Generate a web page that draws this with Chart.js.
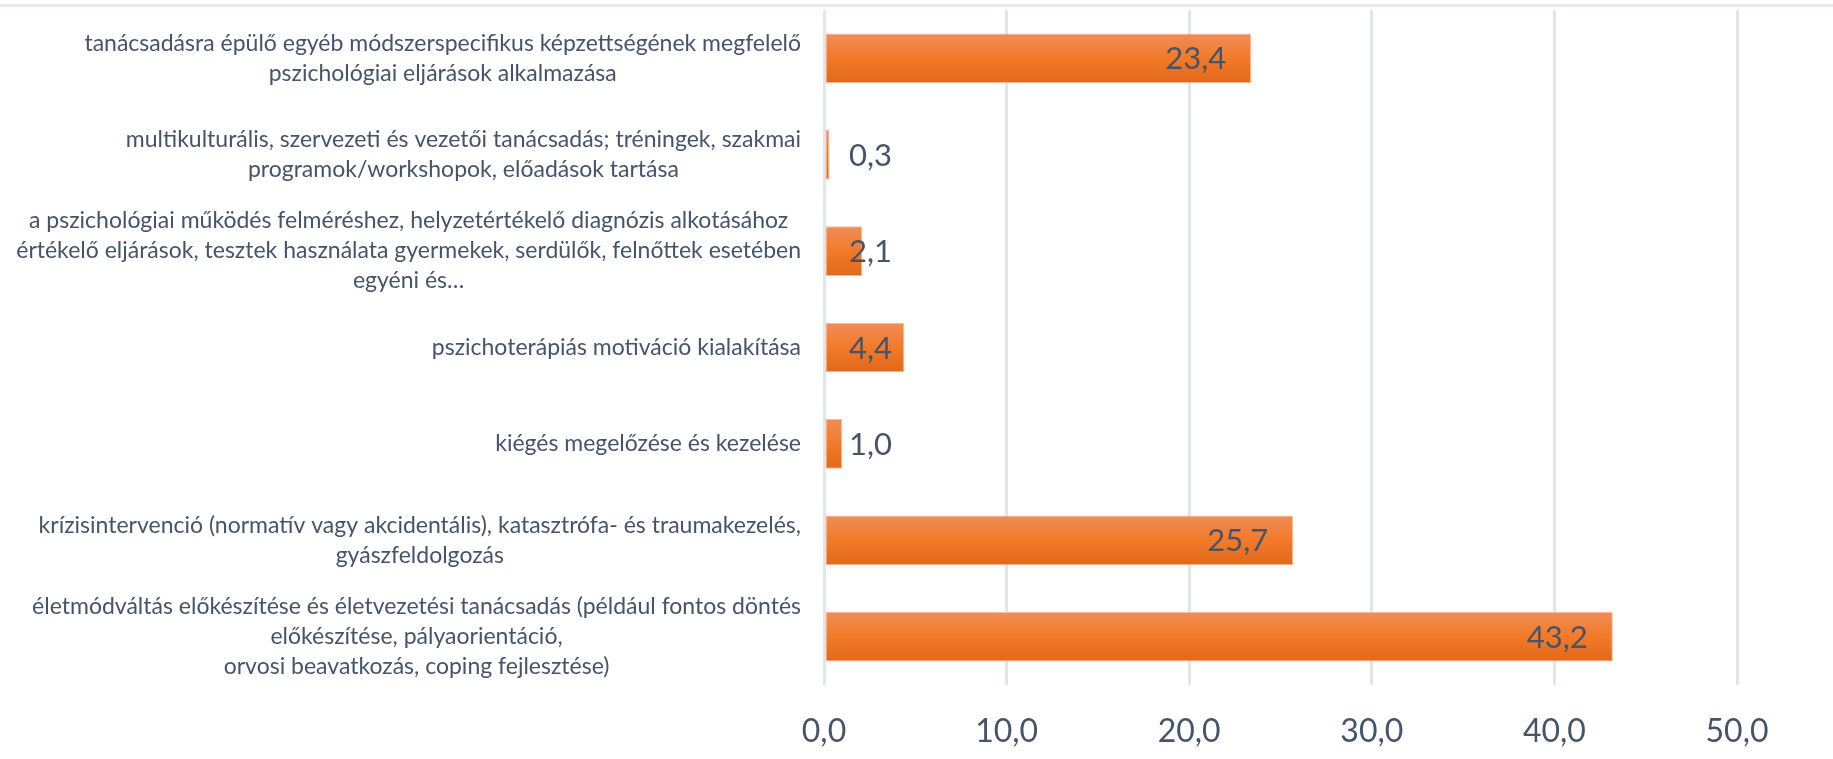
<!DOCTYPE html>
<html>
<head>
<meta charset="utf-8">
<script src="https://cdn.jsdelivr.net/npm/chart.js@4.4.1/dist/chart.umd.min.js"></script>
<style>
  html, body { margin: 0; padding: 0; background: #fff; }
  #wrap { width: 1833px; height: 759px; position: relative; }
</style>
</head>
<body>
<div id="wrap"><canvas id="chart"></canvas></div>
<script>
// Data
const categories = [
  ["tanácsadásra épülő egyéb módszerspecifikus képzettségének megfelelő", "pszichológiai eljárások alkalmazása"],
  ["multikulturális, szervezeti és vezetői tanácsadás; tréningek, szakmai", "programok/workshopok, előadások tartása"],
  ["a pszichológiai működés felméréshez, helyzetértékelő diagnózis alkotásához", "értékelő eljárások, tesztek használata gyermekek, serdülők, felnőttek esetében", "egyéni és…"],
  ["pszichoterápiás motiváció kialakítása"],
  ["kiégés megelőzése és kezelése"],
  ["krízisintervenció (normatív vagy akcidentális), katasztrófa- és traumakezelés,", "gyászfeldolgozás"],
  ["életmódváltás előkészítése és életvezetési tanácsadás (például fontos döntés", "előkészítése, pályaorientáció,", "orvosi beavatkozás, coping fejlesztése)"],
];
const values = [23.4, 0.3, 2.1, 4.4, 1.0, 25.7, 43.2];
const tickLabels = ["0,0", "10,0", "20,0", "30,0", "40,0", "50,0"];

const TEXT = "#44546a";
const FONT = "Lato";
const BAR_PCT = 0.515;

function fmt(v) {
  return v.toFixed(1).replace(".", ",");
}

// bar fill: vertical orange gradient per bar
function barFill(ctx) {
  const chart = ctx.chart;
  const y = chart.scales.y;
  if (!chart.chartArea || !y) return "#f07a2a";
  const yc = y.getPixelForValue(ctx.dataIndex);
  const half = (y.height / categories.length) * BAR_PCT / 2;
  const g = chart.ctx.createLinearGradient(0, yc - half, 0, yc + half);
  g.addColorStop(0, "#f08d58");
  g.addColorStop(0.5, "#f27a28");
  g.addColorStop(1, "#e3681a");
  return g;
}

// top frame line
const frameLine = {
  id: "frameLine",
  beforeDraw(chart) {
    const c = chart.ctx;
    c.save();
    c.fillStyle = "#e6e9f0";
    c.fillRect(0, 4, chart.width, 3);
    c.restore();
  },
};

// category labels: block right-aligned, lines centered within block
const catLabels = {
  id: "catLabels",
  afterDraw(chart) {
    const c = chart.ctx;
    const y = chart.scales.y;
    const right = chart.chartArea.left - 23;
    const lh = 30;
    c.save();
    c.font = "23px " + FONT;
    c.fillStyle = TEXT;
    c.textAlign = "center";
    c.textBaseline = "middle";
    categories.forEach((lines, i) => {
      const w = Math.max(...lines.map(l => c.measureText(l).width));
      const cx = right - w / 2;
      const yc = y.getPixelForValue(i);
      lines.forEach((l, k) => {
        c.fillText(l, cx, yc + (k - (lines.length - 1) / 2) * lh);
      });
    });
    c.restore();
  },
};

// value labels: inside end, or from the base when the bar is too short
const valueLabels = {
  id: "valueLabels",
  afterDatasetsDraw(chart) {
    const c = chart.ctx;
    const meta = chart.getDatasetMeta(0);
    const x0 = chart.scales.x.getPixelForValue(0);
    const pad = 25;
    c.save();
    c.font = "31px " + FONT;
    c.fillStyle = TEXT;
    c.textBaseline = "middle";
    meta.data.forEach((bar, i) => {
      const txt = fmt(values[i]);
      const w = c.measureText(txt).width;
      if (bar.x - x0 > w + pad * 2) {
        c.textAlign = "right";
        c.fillText(txt, bar.x - pad, bar.y + 1);
      } else {
        c.textAlign = "left";
        c.fillText(txt, x0 + pad, bar.y + 1);
      }
    });
    c.restore();
  },
};

new Chart(document.getElementById("chart"), {
  type: "bar",
  data: {
    labels: categories,
    datasets: [{
      data: values,
      backgroundColor: barFill,
      borderColor: "rgba(248, 178, 140, 0.9)",
      borderWidth: 1,
      borderSkipped: false,
      categoryPercentage: 1,
      barPercentage: BAR_PCT,
    }],
  },
  options: {
    indexAxis: "y",
    responsive: true,
    maintainAspectRatio: false,
    animation: false,
    devicePixelRatio: 1,
    layout: {
      padding: { top: 10, left: 824, right: 96, bottom: 6 },
    },
    scales: {
      x: {
        min: 0,
        max: 50,
        afterFit: (s) => { s.height = 68; },
        ticks: {
          stepSize: 10,
          padding: 27,
          color: TEXT,
          font: { family: FONT, size: 32 },
          callback: (v) => tickLabels[Math.round(v / 10)],
        },
        grid: { color: "#e1e5ec", lineWidth: 3, drawTicks: false },
        border: { display: false },
      },
      y: {
        display: false,
      },
    },
    plugins: {
      legend: { display: false },
      tooltip: { enabled: false },
    },
  },
  plugins: [frameLine, catLabels, valueLabels],
});
</script>
</body>
</html>
